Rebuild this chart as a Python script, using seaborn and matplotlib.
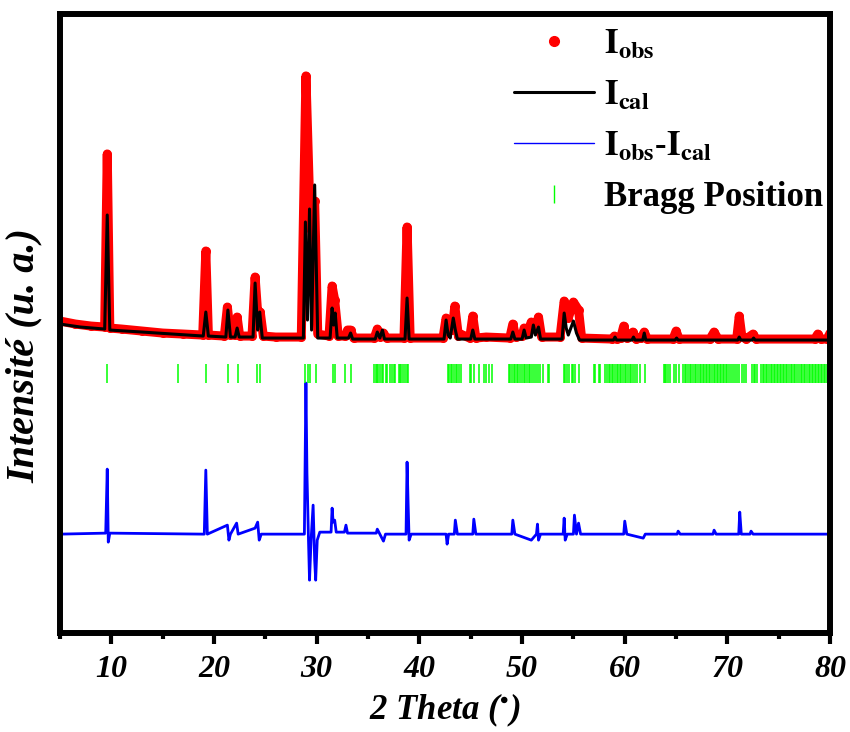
import numpy as np
import seaborn as sns
import matplotlib.pyplot as plt
from matplotlib.lines import Line2D
from matplotlib.ticker import MultipleLocator

sns.set_theme(style="white")
plt.rcParams['font.family'] = ['Liberation Serif', 'DejaVu Serif']
plt.rcParams['mathtext.fontset'] = 'stix'
plt.rcParams['text.color'] = 'black'
plt.rcParams['axes.labelcolor'] = 'black'
plt.rcParams['xtick.color'] = 'black'

obs_x = [5.0, 6.5, 8.0, 9.35, 9.6, 9.85, 11.0, 13.0, 15.0, 17.0, 18.9, 19.2, 19.45,
         21.0, 21.3, 21.6, 22.0, 22.25, 22.5, 23.7, 24.0, 24.3, 24.5, 24.8, 26.0,
         28.5, 28.95, 29.35, 29.5, 29.8, 30.1, 31.2, 31.5, 31.75, 32.1, 32.8, 33.0,
         33.3, 33.6, 35.6, 35.9, 36.2, 36.5, 36.8, 38.5, 38.8, 39.1, 42.3, 42.6,
         42.9, 43.2, 43.45, 43.8, 44.0, 44.9, 45.2, 45.5, 46.5, 48.8, 49.1, 49.4,
         50.0, 50.2, 50.5, 50.9, 51.3, 51.6, 51.9, 53.7, 54.1, 54.5, 55.0, 55.5,
         55.8, 58.8, 59.0, 59.2, 59.6, 59.9, 60.2, 60.6, 60.8, 61.1, 61.6, 61.9,
         62.2, 64.7, 65.0, 65.3, 68.3, 68.7, 69.1, 70.9, 71.15, 71.4, 71.8, 72.5,
         72.8, 78.5, 78.8, 79.1, 79.7, 80.0]
obs_y = [312, 309, 307, 306, 479, 305, 304, 302, 300, 299, 298, 382, 298,
         297, 326, 298, 298, 316, 297, 297, 356, 313, 321, 297, 296,
         296, 557, 418, 403, 432, 299, 297, 347, 333, 297, 297, 303,
         303, 295, 295, 304, 296, 300, 295, 295, 406, 295, 295, 315,
         303, 303, 327, 297, 299, 295, 317, 295, 296, 295, 309, 296,
         297, 305, 300, 311, 305, 316, 296, 296, 332, 315, 331, 323,
         295, 294, 297, 294, 295, 307, 295, 297, 301, 294, 295, 301,
         294, 294, 302, 294, 294, 301, 294, 294, 317, 297, 294, 299,
         294, 294, 299, 294, 294, 300]

# Calculated profile
cal_x = [5.0, 7.0, 9.35, 9.6, 9.85, 13.0, 18.95, 19.2, 19.45, 21.15, 21.35, 21.6,
         22.05, 22.25, 22.45, 23.8, 24.0, 24.25, 24.45, 24.7, 28.7, 28.9, 29.1,
         29.3, 29.5, 29.8, 30.1, 31.3, 31.5, 31.65, 31.8, 32.0, 33.1, 33.3, 33.5,
         35.7, 35.9, 36.15, 36.4, 36.6, 38.6, 38.8, 39.0, 42.4, 42.6, 42.8, 43.0,
         43.3, 43.5, 43.7, 45.0, 45.2, 45.4, 48.9, 49.1, 49.3, 50.0, 50.2, 50.4,
         50.9, 51.1, 51.3, 51.6, 51.8, 53.9, 54.1, 54.3, 54.5, 55.0, 55.3, 55.6,
         58.9, 59.05, 59.2, 60.7, 60.85, 61.0, 61.75, 61.9, 62.05, 64.9, 65.05,
         65.2, 71.0, 71.15, 71.3, 72.4, 72.55, 72.7, 80.0]
cal_y = [309, 306, 304, 418, 303, 301, 297, 321, 297, 296, 323, 296,
         296, 305, 296, 296, 350, 303, 321, 295, 295, 411, 313,
         424, 303, 448, 295, 295, 325, 308, 320, 295, 295, 300, 294,
         294, 301, 295, 303, 294, 294, 335, 294, 294, 313, 298, 295,
         315, 303, 294, 294, 303, 294, 294, 301, 294, 294, 303, 295,
         296, 308, 298, 306, 294, 294, 320, 305, 298, 312, 300, 293,
         293, 296, 293, 293, 296, 293, 293, 300, 293, 293, 295,
         293, 293, 296, 293, 293, 295, 293, 293]

# Difference curve (offset)
diff_x = [5.0, 9.45, 9.6, 9.7, 9.85, 19.05, 19.2, 19.35, 21.3, 21.45, 21.6, 22.2,
          22.35, 24.0, 24.25, 24.4, 24.6, 28.8, 28.95, 29.05, 29.2, 29.3, 29.45,
          29.65, 29.8, 29.9, 30.05, 30.3, 31.4, 31.5, 31.6, 31.75, 31.9, 32.7,
          32.85, 33.0, 35.8, 35.9, 36.5, 36.7, 38.7, 38.8, 38.9, 39.0, 39.2, 42.6,
          42.7, 42.85, 43.4, 43.5, 43.7, 45.2, 45.3, 45.5, 49.0, 49.1, 49.3, 50.9,
          51.4, 51.5, 51.6, 51.8, 54.0, 54.1, 54.2, 54.4, 55.0, 55.1, 55.3, 55.5,
          55.7, 59.9, 60.0, 60.2, 61.8, 62.0, 65.1, 65.2, 65.4, 68.6, 68.7, 68.9,
          71.1, 71.2, 71.35, 72.2, 72.3, 72.5, 79.9, 80.0]
diff_y = [99, 100, 164, 91, 100, 99, 163, 99, 108, 93, 99, 110,
          99, 105, 111, 93, 99, 99, 250, 160, 93, 53, 93,
          128, 73, 53, 93, 101, 101, 125, 111, 113, 101, 101,
          108, 100, 100, 104, 92, 99, 99, 171, 130, 93, 99, 99,
          89, 99, 99, 113, 99, 99, 114, 99, 99, 113, 99, 93,
          99, 109, 93, 99, 99, 115, 93, 99, 99, 118, 99, 110,
          99, 99, 112, 99, 95, 99, 99, 102, 99, 99, 103, 99,
          99, 121, 99, 99, 102, 99, 99, 103]

# Bragg reflection positions
bragg = [9.6, 16.5, 19.2, 21.4, 22.3, 24.2, 24.5, 28.9, 29.15, 29.35, 29.9, 31.6,
         31.8, 32.8, 33.3, 35.6, 35.75, 35.9, 36.0, 36.2, 36.4, 36.5, 36.7, 36.85,
         37.1, 37.3, 37.5, 37.65, 38.0, 38.1, 38.25, 38.4, 38.6, 38.75, 38.9,
         42.8, 42.9, 43.05, 43.2, 43.4, 43.55, 43.7, 43.9, 44.1,
         44.9, 45.0, 45.3, 45.8, 46.3, 46.45, 46.8, 47.1,
         48.7, 48.85, 49.0, 49.2, 49.35, 49.5, 49.65, 49.8, 50.0, 50.15, 50.3, 50.5,
         50.65, 50.8, 51.0, 51.2, 51.35, 51.55, 51.7, 52.0, 52.5, 52.6,
         54.1, 54.2, 54.35, 54.6, 54.9, 55.0, 55.2, 55.5,
         57.0, 57.15, 57.5, 57.6,
         58.1, 58.3, 58.45, 58.6, 58.75, 58.9, 59.05, 59.2, 59.35, 59.5, 59.65, 59.8,
         60.0, 60.15, 60.3, 60.5, 60.65, 60.8, 61.0, 61.2, 61.5, 62.0,
         63.8, 63.9, 64.05, 64.2, 64.4, 64.8, 65.0, 65.3,
         65.7, 65.85, 66.0, 66.2, 66.35, 66.5, 66.65, 66.8, 66.95, 67.1, 67.3, 67.45,
         67.6, 67.75, 67.9, 68.05, 68.2, 68.35, 68.5, 68.65, 68.8, 68.95, 69.1, 69.25,
         69.4, 69.55, 69.7, 69.85, 70.0, 70.15, 70.3, 70.5, 70.7, 70.9,
         71.15, 71.4, 71.6, 71.85, 72.4, 72.55, 72.7, 72.9,
         73.3, 73.45, 73.6, 73.75, 73.9, 74.05, 74.2, 74.35, 74.5, 74.65, 74.8, 74.95,
         75.1, 75.25, 75.4, 75.55, 75.7, 75.85, 76.0, 76.15, 76.3, 76.45, 76.6, 76.8,
         77.0, 77.15, 77.3, 77.45, 77.6, 77.75, 77.9, 78.05, 78.2, 78.35, 78.5, 78.65,
         78.8, 78.95, 79.1, 79.25, 79.4, 79.55, 79.7, 79.85, 80.0]
bragg_lo, bragg_hi = 250, 269

fig = plt.figure(figsize=(8.5, 7.32), dpi=100)
ax = fig.add_axes([0.0706, 0.135, 0.906, 0.846])

sns.lineplot(x=obs_x, y=obs_y, color='red', lw=6.5, marker='o', markersize=6.5,
             markeredgewidth=0, sort=False, estimator=None, ax=ax)
sns.lineplot(x=cal_x, y=cal_y, color='black', lw=2.2, sort=False, estimator=None, ax=ax)
sns.lineplot(x=diff_x, y=diff_y, color='blue', lw=2.0, sort=False, estimator=None, ax=ax)
ax.vlines(bragg, bragg_lo, bragg_hi, color='#00ff00', lw=1.1)

ax.set_xlim(5, 80)
ax.set_ylim(0, 619)
ax.set_yticks([])
ax.xaxis.set_major_locator(MultipleLocator(10))
ax.xaxis.set_minor_locator(MultipleLocator(5))
ax.tick_params(axis='x', which='major', direction='out', length=8, width=3, pad=8,
               bottom=True, top=False, colors='black')
ax.tick_params(axis='x', which='minor', direction='out', length=4, width=3,
               bottom=True, top=False, colors='black')
for lab in ax.get_xticklabels():
    lab.set_fontsize(23)
    lab.set_fontweight('bold')
    lab.set_fontstyle('italic')
for s in ax.spines.values():
    s.set_linewidth(4.3)
    s.set_color('black')

ax.set_xlabel(r'2 Theta ($^{\bullet}$)', fontsize=25, fontweight='bold',
              fontstyle='italic', labelpad=5)
ax.set_ylabel('Intensité (u. a.)', fontsize=29, fontweight='bold',
              fontstyle='italic')
ax.yaxis.set_label_coords(-0.023, 0.449)

handles = [
    Line2D([], [], color='red', marker='o', ls='none', markersize=7),
    Line2D([], [], color='black', lw=2.2),
    Line2D([], [], color='blue', lw=1),
    Line2D([], [], color='#00ff00', marker='|', ls='none', markersize=13, markeredgewidth=1),
]
labels = [r'$\mathbf{I_{obs}}$', r'$\mathbf{I_{cal}}$',
          r'$\mathbf{I_{obs}}$-$\mathbf{I_{cal}}$', 'Bragg Position']
leg = ax.legend(handles, labels, loc='upper right', bbox_to_anchor=(1.009, 1.0),
                frameon=False, handlelength=2.3, handletextpad=0.3,
                labelspacing=0.52, borderaxespad=0.0,
                prop={'family': 'Liberation Serif', 'weight': 'bold', 'size': 25})

fig.savefig('out.png', dpi=100)
